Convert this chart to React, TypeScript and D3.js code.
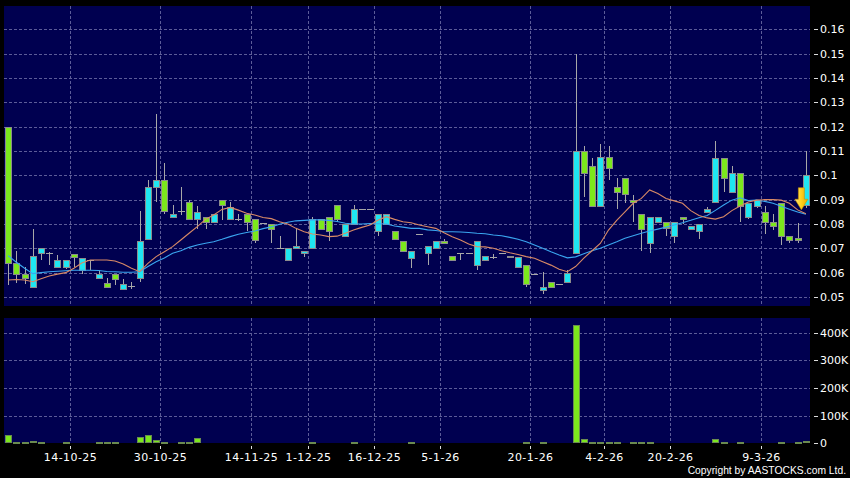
import React from "react";
import * as d3 from "d3";

// ---------- data ----------
const opens = [
  0.12, 0.064, 0.0595, 0.054, 0.068, 0.068, 0.0623, 0.0623, 0.0678, 0.061,
  0.065, 0.058, 0.0556, 0.0594, 0.0533, 0.0546, 0.058, 0.074, 0.0953, 0.098,
  0.083, 0.0855, 0.089, 0.082, 0.083, 0.081, 0.09, 0.082, 0.082, 0.084,
  0.082, 0.0803, 0.08, 0.07, 0.065, 0.07, 0.068, 0.07, 0.082, 0.083,
  0.088, 0.075, 0.08, 0.086, 0.086, 0.077, 0.08, 0.077, 0.073, 0.066,
  0.076, 0.068, 0.07, 0.073, 0.067, 0.068, 0.068, 0.063, 0.065, 0.0666,
  0.068, 0.067, 0.0625, 0.063, 0.0594, 0.053, 0.056, 0.0553, 0.056, 0.068,
  0.11, 0.104, 0.0874, 0.1076, 0.095, 0.099, 0.09, 0.084, 0.072, 0.081,
  0.081, 0.075, 0.083, 0.078, 0.077, 0.085, 0.089, 0.107, 0.093, 0.101,
  0.083, 0.0874, 0.085, 0.081, 0.0887, 0.075, 0.0741, 0.088,
];
const highs = [
  0.12, 0.069, 0.0625, 0.078, 0.07, 0.0685, 0.0673, 0.065, 0.0678, 0.066,
  0.065, 0.061, 0.058, 0.0594, 0.0573, 0.056, 0.0855, 0.098, 0.125, 0.105,
  0.088, 0.0953, 0.09, 0.0874, 0.083, 0.084, 0.09, 0.089, 0.0843, 0.084,
  0.082, 0.0803, 0.08, 0.075, 0.07, 0.078, 0.069, 0.083, 0.082, 0.083,
  0.088, 0.08, 0.088, 0.086, 0.086, 0.084, 0.084, 0.077, 0.073, 0.069,
  0.076, 0.071, 0.073, 0.074, 0.067, 0.068, 0.068, 0.073, 0.067, 0.0675,
  0.068, 0.067, 0.0663, 0.063, 0.0594, 0.0604, 0.056, 0.0553, 0.061, 0.15,
  0.112, 0.107, 0.113, 0.112, 0.099, 0.099, 0.092, 0.084, 0.083, 0.083,
  0.081, 0.081, 0.083, 0.079, 0.08, 0.087, 0.114, 0.107, 0.104, 0.101,
  0.0885, 0.09, 0.0874, 0.084, 0.0887, 0.075, 0.0803, 0.11,
];
const lows = [
  0.055, 0.0556, 0.0555, 0.054, 0.065, 0.063, 0.0623, 0.0615, 0.0625, 0.0594,
  0.061, 0.058, 0.0542, 0.055, 0.0533, 0.0533, 0.0563, 0.074, 0.089, 0.084,
  0.083, 0.0837, 0.082, 0.078, 0.078, 0.081, 0.0816, 0.082, 0.0812, 0.077,
  0.072, 0.0803, 0.072, 0.07, 0.065, 0.07, 0.0666, 0.07, 0.078, 0.073,
  0.081, 0.075, 0.08, 0.086, 0.086, 0.075, 0.08, 0.074, 0.069, 0.062,
  0.076, 0.063, 0.07, 0.072, 0.065, 0.065, 0.068, 0.061, 0.065, 0.0655,
  0.068, 0.0663, 0.0625, 0.054, 0.0594, 0.0512, 0.054, 0.0553, 0.056, 0.068,
  0.091, 0.0874, 0.0874, 0.098, 0.086, 0.0885, 0.081, 0.069, 0.068, 0.081,
  0.075, 0.072, 0.08, 0.078, 0.074, 0.085, 0.089, 0.093, 0.093, 0.081,
  0.082, 0.0865, 0.076, 0.0775, 0.0715, 0.072, 0.072, 0.0864,
];
const closes = [
  0.064, 0.0595, 0.058, 0.067, 0.07, 0.068, 0.065, 0.065, 0.0664, 0.066,
  0.065, 0.0594, 0.0542, 0.0573, 0.0553, 0.0546, 0.073, 0.095, 0.098, 0.0855,
  0.084, 0.0855, 0.082, 0.085, 0.081, 0.084, 0.088, 0.087, 0.082, 0.081,
  0.0734, 0.0803, 0.078, 0.07, 0.07, 0.071, 0.069, 0.082, 0.078, 0.077,
  0.082, 0.08, 0.086, 0.086, 0.086, 0.084, 0.084, 0.074, 0.069, 0.069,
  0.076, 0.071, 0.073, 0.072, 0.065, 0.068, 0.068, 0.073, 0.067, 0.0666,
  0.068, 0.0663, 0.0663, 0.0553, 0.0594, 0.054, 0.054, 0.0553, 0.06, 0.11,
  0.101, 0.0874, 0.1076, 0.103, 0.093, 0.0923, 0.089, 0.078, 0.083, 0.083,
  0.0785, 0.081, 0.082, 0.079, 0.08, 0.086, 0.107, 0.099, 0.101, 0.0874,
  0.0885, 0.09, 0.081, 0.079, 0.075, 0.0734, 0.0734, 0.1,
];
// volume in shares
const volumes = [
  30000, 4000, 4000, 8000, 1000, 0, 0, 3000, 0, 0,
  0, 3000, 3000, 3000, 0, 0, 24000, 30000, 12000, 4000,
  0, 1000, 1000, 20000, 0, 0, 0, 0, 0, 0,
  0, 0, 0, 0, 0, 0, 0, 2000, 0, 0,
  0, 0, 3000, 0, 0, 0, 0, 0, 0, 2000,
  0, 0, 0, 0, 0, 0, 0, 0, 0, 0,
  0, 0, 0, 2000, 0, 2000, 0, 0, 0, 427000,
  14000, 3000, 3000, 1000, 1000, 0, 2000, 5000, 1000, 0,
  0, 0, 0, 0, 0, 0, 15000, 1000, 0, 2000,
  0, 0, 0, 0, 2000, 0, 1000, 10000,
];
// moving averages (orange = short, blue = long)
const maShort = [
  0.057, 0.0572, 0.057, 0.0563, 0.0575, 0.0586, 0.0594, 0.06, 0.0618, 0.0641,
  0.0652, 0.0652, 0.0652, 0.0648, 0.0636, 0.0618, 0.0604, 0.0638, 0.0666, 0.0686,
  0.0707, 0.0734, 0.0762, 0.0789, 0.0819, 0.0837, 0.086, 0.0868, 0.0857, 0.0844,
  0.0837, 0.0827, 0.0822, 0.0809, 0.08, 0.0782, 0.0768, 0.0759, 0.0755, 0.0748,
  0.075, 0.0762, 0.0775, 0.0786, 0.0796, 0.0816, 0.083, 0.0819, 0.0809, 0.0805,
  0.0796, 0.0789, 0.0782, 0.0764, 0.0748, 0.0734, 0.0718, 0.0707, 0.0706, 0.07,
  0.069, 0.0682, 0.0675, 0.0666, 0.0659, 0.0645, 0.0631, 0.0614, 0.0604, 0.0625,
  0.066, 0.069, 0.072, 0.0775, 0.0815, 0.085, 0.0885, 0.0905, 0.094, 0.0925,
  0.0905, 0.0895, 0.0885, 0.0855, 0.0835, 0.0825, 0.082, 0.083, 0.0855, 0.0874,
  0.089, 0.0898, 0.09, 0.09, 0.0898, 0.0885, 0.0858, 0.0842,
];
const maLong = [
  0.067, 0.0643, 0.0618, 0.0596, 0.06, 0.0604, 0.0606, 0.0608, 0.061, 0.061,
  0.061, 0.0609, 0.0605, 0.0604, 0.0602, 0.0602, 0.0604, 0.0625, 0.0645, 0.066,
  0.068, 0.069, 0.0704, 0.0714, 0.0721, 0.0727, 0.0737, 0.0748, 0.0758, 0.0765,
  0.0771, 0.0781, 0.0788, 0.0799, 0.0807, 0.0813, 0.0815, 0.0817, 0.0817, 0.0815,
  0.081, 0.0803, 0.08, 0.08, 0.0802, 0.0801, 0.08, 0.0792, 0.0787, 0.0782,
  0.0782, 0.0776, 0.0773, 0.0768, 0.0768, 0.0767, 0.0765, 0.0762, 0.076, 0.0755,
  0.0752, 0.0745, 0.0737, 0.0727, 0.0714, 0.07, 0.0686, 0.0673, 0.0661, 0.0665,
  0.0678, 0.069, 0.07, 0.0714, 0.0727, 0.0741, 0.0752, 0.0762, 0.0771, 0.0779,
  0.0787, 0.0796, 0.0805, 0.0815, 0.0826, 0.0835, 0.0856, 0.0878, 0.0898, 0.0908,
  0.0896, 0.0898, 0.0893, 0.0885, 0.0873, 0.0861, 0.0849, 0.084,
];
const dateTickIdx = [8, 19, 30, 37, 45, 53, 64, 73, 81, 92];
const dateTickLabels = [
  "14-10-25", "30-10-25", "14-11-25", "1-12-25", "16-12-25",
  "5-1-26", "20-1-26", "4-2-26", "20-2-26", "9-3-26",
];
const priceTicks = [0.16, 0.15, 0.14, 0.13, 0.12, 0.11, 0.1, 0.09, 0.08, 0.07, 0.06, 0.05];
const priceTickLabels = ["0.16", "0.15", "0.14", "0.13", "0.12", "0.11", "0.1", "0.09", "0.08", "0.07", "0.06", "0.05"];
const volTicks = [0, 100000, 200000, 300000, 400000];
const volTickLabels = ["0", "100K", "200K", "300K", "400K"];

// ---------- layout / style ----------
const W = 850;
const H = 478;
const PL = 4;
const PR = 810;
const MAIN_T = 6;
const MAIN_B = 306;
const VOL_T = 318;
const VOL_B = 443;
const BG_PANEL = "#000050";
const GRID = "#5c5c98";
const UP = "#1fe6f2";
const DOWN = "#7ce81c";
const EDGE = "#8c8c8c";
const WICK = "#a8a8a8";
const FONT = "'DejaVu Sans', Verdana, sans-serif";

export default function App() {
  const n = closes.length;
  const x = d3.scaleBand<number>().domain(d3.range(n)).range([PL, PR]).paddingInner(0).paddingOuter(0);
  const step = x.step();
  const cx = (i: number) => (x(i) as number) + step / 2;
  const y = d3.scaleLinear().domain([0.05, 0.16]).range([297, 29.3]);
  const yv = d3.scaleLinear().domain([0, 400000]).range([443.3, 332.7]);

  const lineGen = d3
    .line<number>()
    .x((_, i) => cx(i))
    .y((d) => y(d));

  const candles = closes.map((c, i) => {
    const o = opens[i];
    const hi = highs[i];
    const lo = lows[i];
    const x0 = Math.round(cx(i)) - 3;
    const wx = x0 + 3.5;
    const up = c > o;
    const doji = Math.abs(c - o) < 0.0002;
    const yt = Math.round(y(Math.max(o, c)));
    const yb = Math.round(y(Math.min(o, c)));
    return (
      <g key={i}>
        {hi - lo > 0.0002 && (
          <line x1={wx} x2={wx} y1={Math.round(y(hi))} y2={Math.round(y(lo))} stroke={WICK} strokeWidth={1} />
        )}
        {doji ? (
          <line x1={x0} x2={x0 + 7} y1={yt + 0.5} y2={yt + 0.5} stroke={WICK} strokeWidth={1} />
        ) : (
          <rect
            x={x0 + 0.5}
            y={yt + 0.5}
            width={6}
            height={Math.max(1, yb - yt)}
            fill={up ? UP : DOWN}
            stroke={EDGE}
            strokeWidth={1}
          />
        )}
      </g>
    );
  });

  const volBars = volumes.map((v, i) => {
    if (v <= 0) return null;
    const x0 = Math.round(cx(i)) - 3;
    const yt = Math.round(yv(v));
    const yb = Math.round(yv(0));
    const h = Math.max(1, yb - yt);
    return (
      <rect key={i} x={x0 + 0.5} y={yb - h + 0.5} width={6} height={h - 1 > 0 ? h - 1 : 0.5} fill={DOWN} stroke="#6a8a50" strokeWidth={1} />
    );
  });

  const last = n - 1;
  const tipX = cx(last) - 4.5;
  const tipY = y(maLong[last]) - 4.5;

  return (
    <svg
      width={W}
      height={H}
      style={{ position: "absolute", left: 0, top: 0, display: "block" }}
      fontFamily={FONT}
    >
      <defs>
        <linearGradient id="arrowGrad" x1="0" x2="1" y1="0" y2="0">
          <stop offset="0" stopColor="#ffe680" />
          <stop offset="0.45" stopColor="#ffd21f" />
          <stop offset="1" stopColor="#e8a800" />
        </linearGradient>
      </defs>
      <rect x={0} y={0} width={W} height={H} fill="#000" />
      {/* panels */}
      <rect x={PL} y={MAIN_T} width={PR - PL} height={MAIN_B - MAIN_T} fill={BG_PANEL} />
      <rect x={PL} y={VOL_T} width={PR - PL} height={VOL_B - VOL_T} fill={BG_PANEL} />

      {/* grid */}
      <g shapeRendering="crispEdges">
        {priceTicks.map((t, i) => (
          <line key={"hg" + i} x1={PL} x2={PR} y1={Math.round(y(t)) + 0.5} y2={Math.round(y(t)) + 0.5} stroke={GRID} strokeDasharray="3,2" />
        ))}
        {dateTickIdx.map((d, i) => (
          <line key={"vg" + i} x1={Math.round(x(d) as number) + 0.5} x2={Math.round(x(d) as number) + 0.5} y1={MAIN_T} y2={MAIN_B} stroke={GRID} strokeDasharray="3,2" />
        ))}
        {volTicks.slice(1).map((t, i) => (
          <line key={"vhg" + i} x1={PL} x2={PR} y1={Math.round(yv(t)) + 0.5} y2={Math.round(yv(t)) + 0.5} stroke={GRID} strokeDasharray="3,2" />
        ))}
        {dateTickIdx.map((d, i) => (
          <line key={"vvg" + i} x1={Math.round(x(d) as number) + 0.5} x2={Math.round(x(d) as number) + 0.5} y1={VOL_T} y2={VOL_B} stroke={GRID} strokeDasharray="3,2" />
        ))}
      </g>

      {/* candles */}
      <g shapeRendering="crispEdges">{candles}</g>

      {/* moving averages */}
      <path d={lineGen(maLong) || ""} fill="none" stroke="#3aa6f0" strokeWidth={1.1} />
      <path d={lineGen(maShort) || ""} fill="none" stroke="#d98a66" strokeWidth={1.1} />

      {/* arrow marker on last bar */}
      <path
        d={`M${tipX - 3},${tipY - 22} L${tipX + 3},${tipY - 22} L${tipX + 3},${tipY - 10.5} L${tipX + 6.5},${tipY - 10.5} L${tipX},${tipY} L${tipX - 6.5},${tipY - 10.5} L${tipX - 3},${tipY - 10.5} Z`}
        fill="url(#arrowGrad)"
        stroke="#c89000"
        strokeWidth={0.6}
      />

      {/* volume */}
      <g shapeRendering="crispEdges">{volBars}</g>

      {/* right axis: price */}
      <g fill="#ffffff" fontSize={11}>
        {priceTicks.map((t, i) => (
          <g key={"pt" + i}>
            <line x1={814} x2={818} y1={Math.round(y(t)) + 0.5} y2={Math.round(y(t)) + 0.5} stroke="#dddddd" shapeRendering="crispEdges" />
            <text x={820} y={y(t)} dy="0.36em">
              {priceTickLabels[i]}
            </text>
          </g>
        ))}
        {volTicks.map((t, i) => (
          <g key={"vt" + i}>
            <line x1={814} x2={818} y1={Math.round(yv(t)) + 0.5} y2={Math.round(yv(t)) + 0.5} stroke="#dddddd" shapeRendering="crispEdges" />
            <text x={820} y={yv(t)} dy="0.36em">
              {volTickLabels[i]}
            </text>
          </g>
        ))}
      </g>

      {/* bottom axis: dates */}
      <g fill="#ffffff" fontSize={11}>
        {dateTickIdx.map((d, i) => {
          const px = Math.round(x(d) as number) + 0.5;
          return (
            <g key={"dt" + i}>
              <line x1={px} x2={px} y1={446} y2={449} stroke="#dddddd" shapeRendering="crispEdges" />
              <text x={px} y={461} textAnchor="middle" letterSpacing={0.45}>
                {dateTickLabels[i]}
              </text>
            </g>
          );
        })}
      </g>

      <text x={846} y={473.5} textAnchor="end" fill="#ffffff" fontSize={10.3} fontFamily="'Liberation Sans', Arial, sans-serif">
        Copyright by AASTOCKS.com Ltd.
      </text>
    </svg>
  );
}
